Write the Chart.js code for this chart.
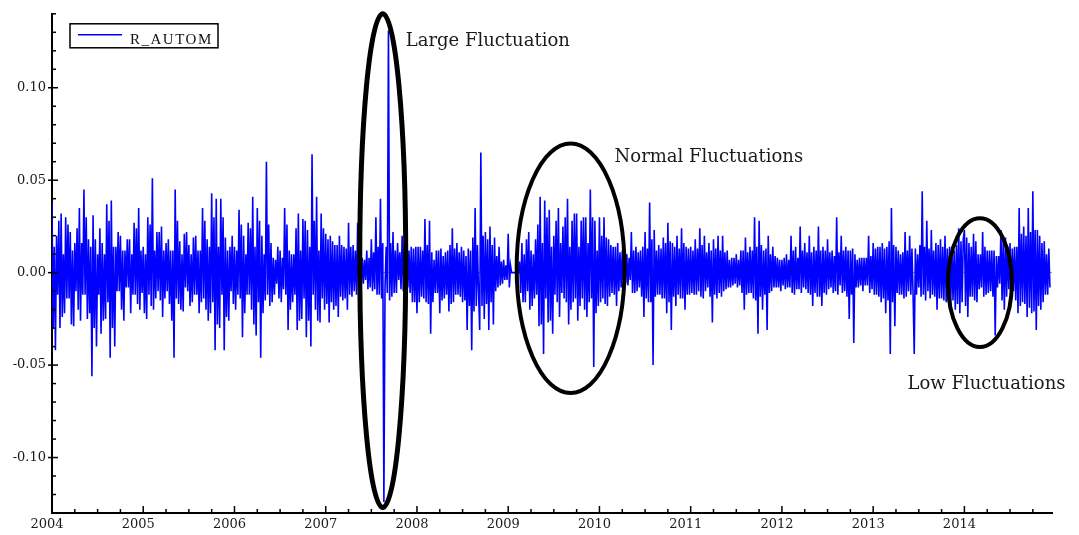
<!DOCTYPE html>
<html>
<head>
<meta charset="utf-8">
<script src="https://cdn.jsdelivr.net/npm/chart.js@4.4.0/dist/chart.umd.min.js"></script>
<style>
  html, body { margin: 0; padding: 0; background: #fff; }
  #wrap { width: 1079px; height: 535px; position: relative; }
</style>
</head>
<body>
<div id="wrap"><canvas id="chart"></canvas></div>
<script>
// R_AUTOM returns in thousandths.
// rYYYY: the swings (spikes) ~40 per year, cYYYY: the dense core between them
const r2004 = [38, -42, 20, -30, 32, -22, 30, -14, 22, -29, 16, -20, 35, -12, 45, -25, 18, -56, 31, -40, 10, -33, 16, -25, 37, -46, 39, -40, 14, -10, 20, -26, 12, -8, 18, -12, 27, -17, 35, -11];
const r2005 = [14, -25, 30, -18, 51, -14, 22, -15, 25, -14, 16, -17, 12, -46, 45, -17, 17, -21, 21, -10, 15, -16, 19, -12, 12, -16, 35, -20, 18, -22, 43, -42, 40, -30, 40, -42, 19, -26, 14, -17];
const r2006 = [14, -12, 34, -35, 20, -12, 27, -20, 41, -34, 35, -46, 20, -15, 60, -18, 16, -12, 7, -14, 12, -9, 35, -31, 12, -16, 10, -31, 32, -25, 29, -35, 23, -40, 64, -20, 41, -27, 32, -20];
const r2007 = [21, -27, 20, -20, 15, -24, 20, -15, 14, -20, 27, -13, 15, -12, 27, -9, 8, -4, 12, -8, 18, -9, 30, -12, 40, -124, -8, 131, -15, 22, -11, 16, -4, 20, -10, 18, -8, 14, -16, 14];
const r2008 = [-22, 14, -13, 29, -16, 28, -33, 7, -11, 12, -22, 9, -14, 12, -21, 24, -16, 16, -12, 14, -16, 9, -31, 12, -42, 35, -18, -31, 65, -25, 22, -31, 25, -28, 19, -8, 14, -6, 7, -4];
const r2009 = [21, 0, 0, 0, 0, -11, 16, -16, 18, -20, 12, -14, 18, -29, 41, -44, 39, -27, 34, -33, 20, -16, 35, -11, 25, -16, 40, -20, 28, -14, 32, -18, 28, -20, 30, -16, 45, -51, 28, -18];
const r2010 = [30, -14, 30, -18, 18, -11, 14, -18, 16, -8, 12, -6, 10, -4, 22, -11, 14, -8, 12, -24, 22, -16, 38, -50, 23, -12, 15, -14, 19, -22, 27, -31, 16, -18, 20, -14, 24, -20, 14, -12];
const r2011 = [14, -12, 18, -10, 24, -14, 20, -8, 16, -27, 18, -14, 20, -13, 20, -9, 12, -8, 8, -6, 10, -7, 12, -20, 19, -11, 14, -14, 30, -33, 28, -20, 12, -31, 20, -10, 14, -8, 8, -10];
const r2012 = [7, -9, 10, -8, 20, -12, 14, -9, 25, -8, 16, -11, 20, -18, 14, -13, 25, -18, 14, -12, 18, -8, 12, -10, 30, -7, 20, -10, 14, -25, 12, -38, 10, -8, 8, -10, 8, -7, 20, -9];
const r2013 = [16, -12, 14, -16, 16, -22, 14, -44, 35, -29, 14, -12, 10, -14, 22, -10, 20, -12, -44, 10, -8, 44, -12, 28, -10, 23, -12, 16, -20, 18, -14, 20, -16, 14, -18, 12, -20, 24, -22, 18];
const r2014 = [23, -24, 16, -13, 21, -16, 10, -8, 22, -12, 12, -10, 12, -34, 9, -6, 23, -20, 19, -9, 16, -10, 14, -22, 35, -16, 25, -24, 35, -22, 44, -31, 23, -20, 16, -12, 10, -8];

const c2004 = [-30, 14, -12, 28, -24, 10, -14, 26, -28, 12, -10, 24, -26, 16, -12, 30, -22, 14, -30, 18, -12, 24, -26, 10, -16, 28, -30, 14, -10, 22, -20, 12, -8, 18, -22, 10, -12, 24, -20, 12];
const c2005 = [-22, 10, -12, 26, -20, 12, -10, 22, -24, 12, -10, 18, -26, 12, -14, 28, -20, 10, -8, 22, -18, 10, -12, 20, -22, 12, -14, 28, -26, 14, -16, 30, -28, 14, -12, 30, -24, 12, -10, 20];
const c2006 = [-20, 12, -14, 26, -22, 10, -12, 24, -28, 14, -16, 28, -22, 10, -12, 26, -16, 8, -6, 14, -16, 8, -12, 26, -20, 10, -12, 24, -26, 12, -14, 28, -26, 14, -12, 28, -26, 12, -14, 24];
const c2007 = [-17, 18, -16, 17, -18, 15, -13, 15, -14, 13, -12, 14, -10, 12, -9, 10, -6, 7, -9, 8, -10, 11, -12, 14, -14, 16, 14, -11, 16, -13, 12, -11, 11, -9, 14, -12, 12, -11, 13, -16];
const c2008 = [14, -16, 12, -14, 15, -17, 11, -16, 12, -11, 13, -15, 11, -12, 15, -17, 13, -12, 11, -13, 12, -15, 13, -18, 19, -21, 15, -11, -18, 20, -17, 18, -16, 15, -10, 9, -7, 6, -4, 4];
const c2009 = [-8, 4, 0, 0, 0, 6, -16, 10, -10, 22, -18, 10, -12, 26, -28, 16, -14, 30, -26, 14, -12, 28, -24, 16, -14, 30, -28, 14, -16, 32, -26, 14, -14, 30, -24, 16, -14, 30, -22, 12];
const c2010 = [-16, 20, -17, 19, -13, 15, -12, 14, -10, 11, -8, 9, -7, 8, -11, 12, -10, 11, -13, 14, -14, 13, -16, 18, -13, 12, -12, 13, -14, 16, -16, 17, -13, 14, -12, 13, -14, 16, -12, 13];
const c2011 = [-11, 12, -12, 13, -13, 15, -10, 11, -13, 12, -12, 13, -11, 12, -10, 11, -8, 7, -7, 8, -8, 7, -11, 12, -12, 11, -11, 12, -15, 14, -13, 15, -12, 13, -11, 10, -8, 9, -8, 7];
const c2012 = [-7, 8, -8, 7, -11, 12, -9, 8, -11, 12, -9, 11, -12, 11, -11, 12, -13, 12, -11, 12, -9, 11, -11, 9, -12, 11, -11, 12, -13, 12, -12, 13, -8, 7, -7, 8, -7, 8, -11, 9];
const c2013 = [-12, 13, -13, 14, -14, 13, -15, 17, -16, 15, -11, 12, -12, 11, -13, 12, -12, 13, 13, -12, 15, -13, 14, -15, 13, -14, 12, -13, 15, -14, 14, -15, 13, -14, 14, -15, 15, -17, 17, -16];
const c2014 = [-18, 19, -13, 14, -15, 17, -9, 10, -13, 14, -11, 12, -13, 12, -8, 9, -15, 17, -13, 14, -12, 13, -15, 14, -18, 21, -17, 20, -19, 22, -21, 23, -18, 20, -16, 17, -12, 13];

const years = [2004, 2005, 2006, 2007, 2008, 2009, 2010, 2011, 2012, 2013, 2014];
const swingValues = [r2004, r2005, r2006, r2007, r2008, r2009, r2010, r2011, r2012, r2013, r2014];
const coreValues = [c2004, c2005, c2006, c2007, c2008, c2009, c2010, c2011, c2012, c2013, c2014];

const yTickValues = [-0.10, -0.05, 0.00, 0.05, 0.10];
const xTickValues = years;

// annotations, in data units (year, return)
const notes = [
  { text: "Large Fluctuation", x: 2007.877, y: 0.1227 },
  { text: "Normal Fluctuations", x: 2010.166, y: 0.060 },
  { text: "Low Fluctuations", x: 2013.376, y: -0.0627 },
];
const rings = [
  { x: 2007.625, y: 0.0065, rx: 0.252, ry: 0.1335, lw: 5 },
  { x: 2009.684, y: 0.0024, rx: 0.591, ry: 0.0675, lw: 4 },
  { x: 2014.170, y: -0.0054, rx: 0.350, ry: 0.0348, lw: 4 },
];

// interleave: swing, core, core, swing -> 80 readings a year
const points = [];
years.forEach((yr, k) => {
  const m = swingValues[k];
  const c = coreValues[k];
  for (let j = 0; j < m.length / 2; j++) {
    [m[2 * j], c[2 * j], c[2 * j + 1], m[2 * j + 1]].forEach((v, s) => {
      if (v !== undefined) points.push({ x: yr + (4 * j + s) / 80, y: v / 1000 });
    });
  }
});

const serif = "'DejaVu Serif', 'Liberation Serif', serif";

const extras = {
  id: "extras",
  afterDraw(chart) {
    const { ctx, chartArea, scales: { x, y } } = chart;
    ctx.save();

    // axis ticks, major and minor
    ctx.strokeStyle = "#000";
    ctx.lineWidth = 1.5;
    for (let k = -13; k <= 14; k++) {
      const py = y.getPixelForValue(k / 100);
      const major = k % 5 === 0;
      ctx.beginPath();
      ctx.moveTo(chartArea.left - (major ? 4 : 0), py);
      ctx.lineTo(chartArea.left + (major ? 6 : 4), py);
      ctx.stroke();
    }
    for (let q = 0; q < 44; q++) {
      const px = x.getPixelForValue(2004 + q / 4);
      const major = q % 4 === 0;
      ctx.beginPath();
      ctx.moveTo(px, chartArea.bottom + (major ? 1 : 0));
      ctx.lineTo(px, chartArea.bottom - (major ? 7 : 4));
      ctx.stroke();
    }

    // legend box
    const ds = chart.data.datasets[0];
    const lx = chartArea.left + 18, ly = chartArea.top + 10;
    ctx.lineWidth = 1.5;
    ctx.strokeRect(lx, ly, 148, 24);
    ctx.strokeStyle = ds.borderColor;
    ctx.beginPath();
    ctx.moveTo(lx + 8, ly + 11);
    ctx.lineTo(lx + 52, ly + 11);
    ctx.stroke();
    ctx.fillStyle = "#111";
    ctx.font = "15px 'Liberation Serif', serif";
    ctx.letterSpacing = "1.5px";
    ctx.textBaseline = "alphabetic";
    ctx.fillText(ds.label, lx + 60, ly + 20);
    ctx.letterSpacing = "0px";

    // ellipses
    ctx.strokeStyle = "#000";
    rings.forEach((r) => {
      const cx = x.getPixelForValue(r.x);
      const cy = y.getPixelForValue(r.y);
      const rx = Math.abs(x.getPixelForValue(r.x + r.rx) - cx);
      const ry = Math.abs(y.getPixelForValue(r.y + r.ry) - cy);
      ctx.lineWidth = r.lw;
      ctx.beginPath();
      ctx.ellipse(cx, cy, rx, ry, 0, 0, Math.PI * 2);
      ctx.stroke();
    });

    // labels
    ctx.fillStyle = "#1a1a1a";
    ctx.font = "18px " + serif;
    notes.forEach((n) => {
      ctx.fillText(n.text, x.getPixelForValue(n.x), y.getPixelForValue(n.y));
    });
    ctx.restore();
  },
};

new Chart(document.getElementById("chart"), {
  type: "line",
  data: {
    datasets: [
      {
        label: "R_AUTOM",
        data: points,
        borderColor: "#0000ff",
        borderWidth: 1.6,
        pointRadius: 0,
        tension: 0,
        fill: false,
      },
    ],
  },
  options: {
    responsive: true,
    maintainAspectRatio: false,
    animation: false,
    layout: { padding: { top: 9, right: 27, left: 0, bottom: 0 } },
    plugins: {
      legend: { display: false },
      tooltip: { enabled: false },
    },
    scales: {
      x: {
        type: "linear",
        min: 2004,
        max: 2014.96,
        afterBuildTicks: (scale) => {
          scale.ticks = xTickValues.map((v) => ({ value: v }));
        },
        afterFit: (scale) => {
          scale.height = 22;
        },
        ticks: {
          callback: (v) => String(v),
          font: { family: serif, size: 13 },
          color: "#1a1a1a",
          padding: 4,
          labelOffset: -5,
          maxRotation: 0,
          autoSkip: false,
        },
        grid: { display: false, drawTicks: false },
        border: { display: true, color: "#000", width: 2 },
      },
      y: {
        min: -0.13,
        max: 0.14,
        afterBuildTicks: (scale) => {
          scale.ticks = yTickValues.map((v) => ({ value: v }));
        },
        afterFit: (scale) => {
          scale.width = 52;
        },
        ticks: {
          callback: (v) => v.toFixed(2),
          font: { family: serif, size: 13 },
          color: "#1a1a1a",
          padding: 6,
        },
        grid: {
          drawTicks: false,
          color: (ctx) => (ctx.tick && ctx.tick.value === 0 ? "#9a9a9a" : "rgba(0,0,0,0)"),
          lineWidth: 1,
        },
        border: { display: true, color: "#000", width: 2 },
      },
    },
  },
  plugins: [extras],
});
</script>
</body>
</html>
